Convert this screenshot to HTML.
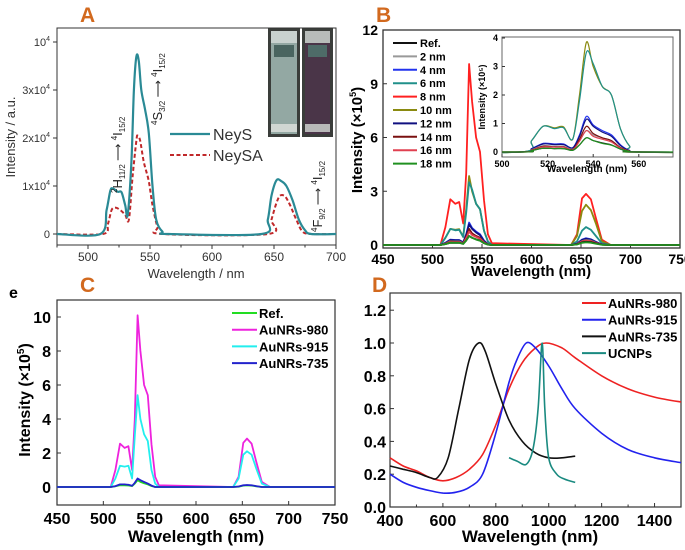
<!DOCTYPE html>
<html><head><meta charset="utf-8"><style>
body{margin:0;background:#fff}
svg{display:block}
text{font-family:"Liberation Sans",Arial,sans-serif}
</style></head><body>
<svg id="fig" width="685" height="550" viewBox="0 0 685 550" xmlns="http://www.w3.org/2000/svg">
<rect width="685" height="550" fill="#fff"/>
<text x="80" y="22" font-size="21" font-weight="bold" fill="#d2691e">A</text>
<text x="376" y="22" font-size="21" font-weight="bold" fill="#d2691e">B</text>
<text x="80" y="292" font-size="21" font-weight="bold" fill="#d2691e">C</text>
<text x="372" y="292" font-size="21" font-weight="bold" fill="#d2691e">D</text>
<text x="9" y="298" font-size="16" font-weight="bold">e</text>
<g id="photo">
<rect x="268" y="28" width="32" height="109" fill="#3a3d3a"/>
<rect x="271" y="31" width="26" height="103" fill="#93a8a3"/>
<rect x="271" y="31" width="26" height="12" fill="#c9d2cf"/>
<rect x="274" y="45" width="20" height="12" fill="#4a6560"/>
<rect x="271" y="124" width="26" height="8" fill="#d0d6d2"/>
<rect x="302" y="28" width="31" height="109" fill="#3a3d3a"/>
<rect x="305" y="31" width="25" height="103" fill="#4a3548"/>
<rect x="305" y="31" width="25" height="12" fill="#b8bcba"/>
<rect x="308" y="45" width="19" height="12" fill="#4e6b68"/>
<rect x="305" y="124" width="25" height="8" fill="#b8b8b8"/>
</g>
</svg>
<script>
// ---------- DATA ----------
// Panel A (units 1e4)
const aNeySX=[475,510,515,518,520,524,527,530,532,535,537,539,541,543,546,549,552,555,560,565,640,645,648,652,656,660,665,670,675,680,700];
const aNeySY=[0,0,0.5,0.9,0.95,0.88,0.87,0.6,0.4,1.5,3.0,3.7,3.6,3.0,2.6,2.1,1.0,0.3,0.05,0,0,0.3,0.8,1.12,1.1,1.0,0.7,0.3,0.08,0,0];
const aNeySAX=[475,512,516,519,522,526,530,533,536,539,540,542,545,549,552,556,560,645,648,652,655,659,663,668,673,680,700];
const aNeySAY=[0,0,0.2,0.5,0.55,0.5,0.4,0.3,1.2,1.95,2.05,1.95,1.5,1.1,0.6,0.15,0,0,0.3,0.65,0.8,0.78,0.6,0.3,0.05,0,0];
const aXTicks=[500,550,600,650,700];
const aYTicks=[0,1,2,3,4];
const aYLabels=["0","1x10","2x10","3x10","10"];
// Panel B (units 1e5)
const bX=[450,508,513,518,523,527,531,534,537,540,544,548,552,556,560,640,646,651,655,660,665,671,680,750];
const bRef =[0,0,0.05,0.13,0.12,0.12,0.06,0.25,0.5,0.4,0.32,0.25,0.1,0.02,0,0,0.04,0.15,0.18,0.16,0.09,0.02,0,0];
const b2nm =[0,0,0.08,0.22,0.2,0.2,0.1,0.4,0.75,0.6,0.5,0.4,0.15,0.03,0,0,0.05,0.22,0.28,0.24,0.13,0.02,0,0];
const b4nm =[0,0,0.12,0.3,0.28,0.28,0.15,0.6,1.25,0.95,0.75,0.6,0.25,0.05,0,0,0.08,0.3,0.38,0.32,0.18,0.03,0,0];
const b6nm =[0,0,0.4,0.9,0.82,0.85,0.45,1.8,3.5,3.1,2.3,2.0,0.8,0.2,0,0,0.2,0.8,1.0,0.85,0.5,0.1,0,0];
const b8nm =[0,0,1.0,2.55,2.3,2.4,1.2,4.0,10.1,8.0,6.0,5.2,2.5,0.6,0.1,0,0.6,2.6,2.85,2.55,1.5,0.3,0,0];
const b10nm=[0,0,0.4,0.9,0.85,0.88,0.45,2.0,3.85,3.0,2.3,2.0,0.8,0.2,0,0,0.5,1.9,2.25,1.95,1.2,0.2,0,0];
const b12nm=[0,0,0.11,0.28,0.26,0.26,0.14,0.55,1.15,0.9,0.7,0.55,0.22,0.05,0,0,0.07,0.28,0.35,0.3,0.16,0.03,0,0];
const b14nm=[0,0,0.07,0.2,0.18,0.18,0.09,0.45,0.9,0.65,0.5,0.4,0.15,0.03,0,0,0.05,0.2,0.25,0.22,0.12,0.02,0,0];
const b16nm=[0,0,0.06,0.18,0.17,0.17,0.08,0.38,0.75,0.55,0.45,0.35,0.13,0.03,0,0,0.05,0.2,0.24,0.21,0.11,0.02,0,0];
const b18nm=[0,0,0.05,0.13,0.12,0.12,0.06,0.25,0.5,0.4,0.3,0.24,0.1,0.02,0,0,0.03,0.12,0.15,0.13,0.07,0.01,0,0];
const bNames=["Ref.","2 nm","4 nm","6 nm","8 nm","10 nm","12 nm","14 nm","16 nm","18 nm"];
const bXTicks=[450,500,550,600,650,700,750];
const bYTicks=[0,3,6,9,12];
const bInXTicks=[500,520,540,560];
const bInYTicks=[0,1,2,3,4];
// Panel C (units 1e5)
const cRef=[0,0,0.04,0.1,0.1,0.09,0.05,0.2,0.4,0.3,0.22,0.15,0.06,0,0,0,0.02,0.08,0.1,0.08,0.04,0,0,0];
const c980=[0,0,1.0,2.55,2.3,2.4,1.0,4.0,10.1,8.0,6.0,5.4,2.5,0.6,0.1,0,0.6,2.6,2.85,2.55,1.5,0.3,0,0];
const c915=[0,0,0.5,1.25,1.2,1.25,0.5,3.0,5.4,4.0,3.1,2.7,1.0,0.2,0,0,0.5,1.9,2.1,1.9,1.1,0.2,0,0];
const c735=[0,0,0.05,0.15,0.15,0.13,0.07,0.25,0.5,0.4,0.3,0.2,0.08,0,0,0,0.03,0.1,0.12,0.1,0.05,0,0,0];
const cXTicks=[450,500,550,600,650,700,750];
const cYTicks=[0,2,4,6,8,10];
// Panel D
const d980X=[400,450,500,550,600,650,700,750,800,850,900,950,990,1050,1100,1200,1300,1400,1500];
const d980Y=[0.3,0.25,0.22,0.18,0.16,0.18,0.23,0.32,0.5,0.72,0.88,0.97,1.0,0.97,0.91,0.8,0.72,0.67,0.64];
const d915X=[400,450,500,550,600,650,700,750,800,850,880,915,950,1000,1050,1100,1200,1300,1400,1500];
const d915Y=[0.2,0.15,0.12,0.1,0.085,0.09,0.12,0.2,0.45,0.76,0.9,1.0,0.97,0.86,0.72,0.6,0.45,0.35,0.3,0.27];
const d735X=[400,450,500,550,580,620,660,700,735,760,800,850,900,950,1000,1050,1100];
const d735Y=[0.25,0.23,0.21,0.18,0.18,0.3,0.6,0.9,1.0,0.95,0.75,0.53,0.4,0.33,0.3,0.3,0.31];
const dUCX=[850,880,915,940,960,975,985,1000,1030,1060,1100];
const dUCY=[0.3,0.28,0.26,0.35,0.6,1.0,0.6,0.3,0.2,0.17,0.15];
const dXTicks=[400,600,800,1000,1200,1400];
const dYTicks=[0,0.2,0.4,0.6,0.8,1.0,1.2];

// ---------- DRAW ----------
const NS="http://www.w3.org/2000/svg";
const svg=document.getElementById('fig');
function mk(tag,attrs,name,parent){
  const el=document.createElementNS(NS,tag);
  for(const k in attrs) el.setAttribute(k,attrs[k]);
  
  
  (parent||svg).appendChild(el);
  return el;
}
function scale(d0,d1,r0,r1){return v=>r0+(v-d0)*(r1-r0)/(d1-d0);}
function poly(xs,ys,sx,sy,color,w,name,dash,clip,smooth){
  const P=xs.map((x,i)=>[sx(x),sy(ys[i])]);
  let d='M'+P[0][0].toFixed(1)+','+P[0][1].toFixed(1);
  for(let i=0;i<P.length-1;i++){
    if(smooth){
      const p0=P[Math.max(0,i-1)],p1=P[i],p2=P[i+1],p3=P[Math.min(P.length-1,i+2)];
      const k=0.16;
      const c1=[p1[0]+(p2[0]-p0[0])*k,p1[1]+(p2[1]-p0[1])*k];
      const c2=[p2[0]-(p3[0]-p1[0])*k,p2[1]-(p3[1]-p1[1])*k];
      d+=' C'+c1[0].toFixed(1)+','+c1[1].toFixed(1)+' '+c2[0].toFixed(1)+','+c2[1].toFixed(1)+' '+p2[0].toFixed(1)+','+p2[1].toFixed(1);
    } else d+=' L'+P[i+1][0].toFixed(1)+','+P[i+1][1].toFixed(1);
  }
  const a={d:d,fill:'none',stroke:color,'stroke-width':w,'stroke-linejoin':'round'};
  if(dash)a['stroke-dasharray']=dash;
  if(clip)a['clip-path']='url(#'+clip+')';
  return mk('path',a,name);
}
function txt(x,y,s,size,name,opt){
  opt=opt||{};
  const a={x:x,y:y,'font-size':size,'text-anchor':opt.anchor||'middle'};
  if(opt.bold)a['font-weight']='bold';
  if(opt.rot)a.transform='rotate(-90 '+x+' '+y+')';
  if(opt.fill)a.fill=opt.fill;
  const t=mk('text',a,name);
  t.textContent=s;
  return t;
}
function frame(x0,y0,x1,y1,name,w){
  mk('rect',{x:x0,y:y0,width:x1-x0,height:y1-y0,fill:'none',stroke:'#333','stroke-width':w||1.2},name);
}
const defs=mk('defs',{},'defs');
function clip(id,x0,y0,x1,y1){
  const c=mk('clipPath',{id:id},'clip-'+id,defs);
  mk('rect',{x:x0,y:y0,width:x1-x0,height:y1-y0},'clip-rect',c);
}

// Panel A
{
const X0=57,X1=336,Y0=28,Y1=245;
const sx=scale(475,700,X0,X1), sy=scale(0,4,234,42);
frame(X0,Y0,X1,Y1,'panel-a-frame',1);
aXTicks.forEach(v=>{mk('line',{x1:sx(v),x2:sx(v),y1:Y1,y2:Y1+4,stroke:'#333'},'x-tick-a');
  txt(sx(v),Y1+16,String(v),12,'x-tick-label-a',{fill:'#333'});});
[475,525,575,625,675].forEach(v=>mk('line',{x1:sx(v),x2:sx(v),y1:Y1,y2:Y1+2.5,stroke:'#333'},'x-minor-tick-a'));
aYTicks.forEach((v,i)=>{mk('line',{x1:X0-4,x2:X0,y1:sy(v),y2:sy(v),stroke:'#333'},'y-tick-a');
  const t=txt(X0-7,sy(v)+4,aYLabels[i],11,'y-tick-label-a',{anchor:'end',fill:'#333'});
  if(v>0){t.textContent='';const t1=document.createElementNS(NS,'tspan');t1.textContent=aYLabels[i];t.appendChild(t1);
    const t2=document.createElementNS(NS,'tspan');t2.setAttribute('font-size','7');t2.setAttribute('dy','-5');t2.textContent='4';t.appendChild(t2);}
});
txt(15,137,'Intensity / a.u.',13,'y-axis-title-a',{rot:true,fill:'#333'});
txt(196,278,'Wavelength / nm',13,'x-axis-title-a',{fill:'#333'});
poly(aNeySAX,aNeySAY,sx,sy,'#c0282a',2,'series-neysa','4,2.5',null,true);
poly(aNeySX,aNeySY,sx,sy,'#2a8a95',2.2,'series-neys',null,null,true);
mk('line',{x1:170,x2:210,y1:134,y2:134,stroke:'#2a8a95','stroke-width':2.2},'legend-line-neys');
txt(213,140,'NeyS',16,'legend-label-neys',{anchor:'start',fill:'#333'});
mk('line',{x1:170,x2:210,y1:155,y2:155,stroke:'#c0282a','stroke-width':2,'stroke-dasharray':'4,2.5'},'legend-line-neysa');
txt(213,161,'NeySA',16,'legend-label-neysa',{anchor:'start',fill:'#333'});
function ann(x,y,lo,hi,name){
  const t=mk('text',{x:x,y:y,'font-size':12,'font-family':'Liberation Serif,serif',transform:'rotate(-90 '+x+' '+y+')',fill:'#222'},name);
  const parts=[[lo.sup,'-5',8],[lo.L,'5',13],[lo.sub,'3',8],[' \u27F6 ','-3',12],[hi.sup,'-5',8],[hi.L,'5',13],[hi.sub,'3',8]];
  parts.forEach(p=>{const s=document.createElementNS(NS,'tspan');s.setAttribute('dy',p[1]);s.setAttribute('font-size',p[2]);s.textContent=p[0];t.appendChild(s);});
}
ann(122,193,{sup:'2',L:'H',sub:'11/2'},{sup:'4',L:'I',sub:'15/2'},'annotation-2h11-4i15');
ann(162,125,{sup:'4',L:'S',sub:'3/2'},{sup:'4',L:'I',sub:'15/2'},'annotation-4s3-4i15');
ann(322,232,{sup:'4',L:'F',sub:'9/2'},{sup:'4',L:'I',sub:'15/2'},'annotation-4f9-4i15');
}

// Panel B
const bSeries=[bRef,b2nm,b4nm,b6nm,b8nm,b10nm,b12nm,b14nm,b16nm,b18nm];
const bColors=['#111','#999','#2233ee','#20908a','#ff2020','#8a8a10','#101080','#7a1010','#e04050','#209020'];
{
const X0=383,X1=680,Y0=30,Y1=248;
const sx=scale(450,750,X0,X1), sy=scale(0,12,245,30);
frame(X0,Y0,X1,Y1,'panel-b-frame',1.3);
bXTicks.forEach(v=>{mk('line',{x1:sx(v),x2:sx(v),y1:Y1,y2:Y1-4,stroke:'#333'},'x-tick-b');
  txt(sx(v),Y1+16,String(v),14,'x-tick-label-b',{bold:true});});
bYTicks.forEach(v=>{mk('line',{x1:X0,x2:X0+4,y1:sy(v),y2:sy(v),stroke:'#333'},'y-tick-b');
  txt(X0-5,sy(v)+5,String(v),14,'y-tick-label-b',{anchor:'end',bold:true});});
const yt=txt(362,140,'Intensity (\u00D710',15,'y-axis-title-b',{rot:true,bold:true});
const s1=document.createElementNS(NS,'tspan');s1.setAttribute('font-size','9');s1.setAttribute('dy','-6');s1.textContent='5';yt.appendChild(s1);
const s2=document.createElementNS(NS,'tspan');s2.setAttribute('dy','6');s2.textContent=')';yt.appendChild(s2);
txt(531,276,'Wavelength (nm)',15,'x-axis-title-b',{bold:true});
const order=[4,5,3,2,6,1,7,8,0,9];
order.forEach(i=>poly(bX,bSeries[i],sx,sy,bColors[i],1.8,'series-b-'+bNames[i].replace(/[ .]/g,'')));
bNames.forEach((n,i)=>{const y=43+i*13.4;
  mk('line',{x1:393,x2:417,y1:y,y2:y,stroke:bColors[i],'stroke-width':2},'legend-line-b');
  txt(420,y+4,n,11,'legend-label-b',{anchor:'start',bold:true});});
// inset
const I0=502,I1=673,J0=37,J1=157;
clip('bin',I0,J0,I1,J1);
mk('rect',{x:I0,y:J0,width:I1-I0,height:J1-J0,fill:'#fff',stroke:'#666','stroke-width':1},'inset-frame');
const ix=scale(500,575,I0,I1), iy=scale(0,4,152,38);
bInXTicks.forEach(v=>{mk('line',{x1:ix(v),x2:ix(v),y1:J1,y2:J1-3,stroke:'#333'},'inset-x-tick');
  txt(ix(v),J1+10,String(v),9,'inset-x-tick-label',{bold:true});});
bInYTicks.forEach(v=>{mk('line',{x1:I0,x2:I0+3,y1:iy(v),y2:iy(v),stroke:'#333'},'inset-y-tick');
  txt(I0-4,iy(v)+3,String(v),9,'inset-y-tick-label',{anchor:'end',bold:true});});
txt(485,97,'Intensity (\u00D710\u2075)',9,'inset-y-title',{rot:true,bold:true});
txt(587,172,'Wavelength (nm)',10,'inset-x-title',{bold:true});
[5,3,2,6,1,7,8,0,9].forEach(i=>poly(bX,bSeries[i],ix,iy,bColors[i],1.2,'inset-series-'+bNames[i].replace(/[ .]/g,''),null,'bin',true));
}

// Panel C
{
const X0=57,X1=335,Y0=300,Y1=505;
const sx=scale(450,750,X0,X1), sy=scale(0,10,487,317);
frame(X0,Y0,X1,Y1,'panel-c-frame',1.2);
cXTicks.forEach(v=>{mk('line',{x1:sx(v),x2:sx(v),y1:Y1,y2:Y1-4,stroke:'#333'},'x-tick-c');
  txt(sx(v),Y1+19,String(v),16,'x-tick-label-c',{bold:true});});
cYTicks.forEach(v=>{mk('line',{x1:X0,x2:X0+4,y1:sy(v),y2:sy(v),stroke:'#333'},'y-tick-c');
  txt(X0-6,sy(v)+6,String(v),16,'y-tick-label-c',{anchor:'end',bold:true});});
const yt=txt(30,400,'Intensity (\u00D710',16,'y-axis-title-c',{rot:true,bold:true});
const s1=document.createElementNS(NS,'tspan');s1.setAttribute('font-size','10');s1.setAttribute('dy','-6');s1.textContent='5';yt.appendChild(s1);
const s2=document.createElementNS(NS,'tspan');s2.setAttribute('dy','6');s2.textContent=')';yt.appendChild(s2);
txt(196,542,'Wavelength (nm)',17,'x-axis-title-c',{bold:true});
const cS=[cRef,c980,c915,c735], cC=['#22dd22','#ee22dd','#22eeee','#2222cc'], cN=['Ref.','AuNRs-980','AuNRs-915','AuNRs-735'];
[1,2,0,3].forEach(i=>poly(bX,cS[i],sx,sy,cC[i],1.8,'series-c-'+cN[i]));
cN.forEach((n,i)=>{const y=313+i*16.7;
  mk('line',{x1:232,x2:257,y1:y,y2:y,stroke:cC[i],'stroke-width':2},'legend-line-c');
  txt(259,y+5,n,13,'legend-label-c',{anchor:'start',bold:true});});
}

// Panel D
{
const X0=390,X1=681,Y0=293,Y1=507;
const sx=scale(400,1500,X0,X1), sy=scale(0,1,507,343);
frame(X0,Y0,X1,Y1,'panel-d-frame',1.2);
dXTicks.forEach(v=>{mk('line',{x1:sx(v),x2:sx(v),y1:Y1,y2:Y1-4,stroke:'#333'},'x-tick-d');
  txt(sx(v),Y1+19,String(v),16,'x-tick-label-d',{bold:true});});
[500,700,900,1100,1300,1500].forEach(v=>mk('line',{x1:sx(v),x2:sx(v),y1:Y1,y2:Y1-2.5,stroke:'#333'},'x-minor-tick-d'));
dYTicks.forEach(v=>{mk('line',{x1:X0,x2:X0+4,y1:sy(v),y2:sy(v),stroke:'#333'},'y-tick-d');
  txt(X0-4,sy(v)+6,v.toFixed(1),16,'y-tick-label-d',{anchor:'end',bold:true});});
txt(530,542,'Wavelength (nm)',17,'x-axis-title-d',{bold:true});
poly(d980X,d980Y,sx,sy,'#ee2222',1.6,'series-d-aunrs-980',null,null,true);
poly(d915X,d915Y,sx,sy,'#2222ee',1.6,'series-d-aunrs-915',null,null,true);
poly(d735X,d735Y,sx,sy,'#111',1.6,'series-d-aunrs-735',null,null,true);
poly(dUCX,dUCY,sx,sy,'#1a8a80',1.6,'series-d-ucnps',null,null,true);
const dN=['AuNRs-980','AuNRs-915','AuNRs-735','UCNPs'], dC=['#ee2222','#2222ee','#111','#1a8a80'];
dN.forEach((n,i)=>{const y=303+i*16.7;
  mk('line',{x1:582,x2:606,y1:y,y2:y,stroke:dC[i],'stroke-width':2},'legend-line-d');
  txt(608,y+5,n,13,'legend-label-d',{anchor:'start',bold:true});});
}
</script>
</body></html>
